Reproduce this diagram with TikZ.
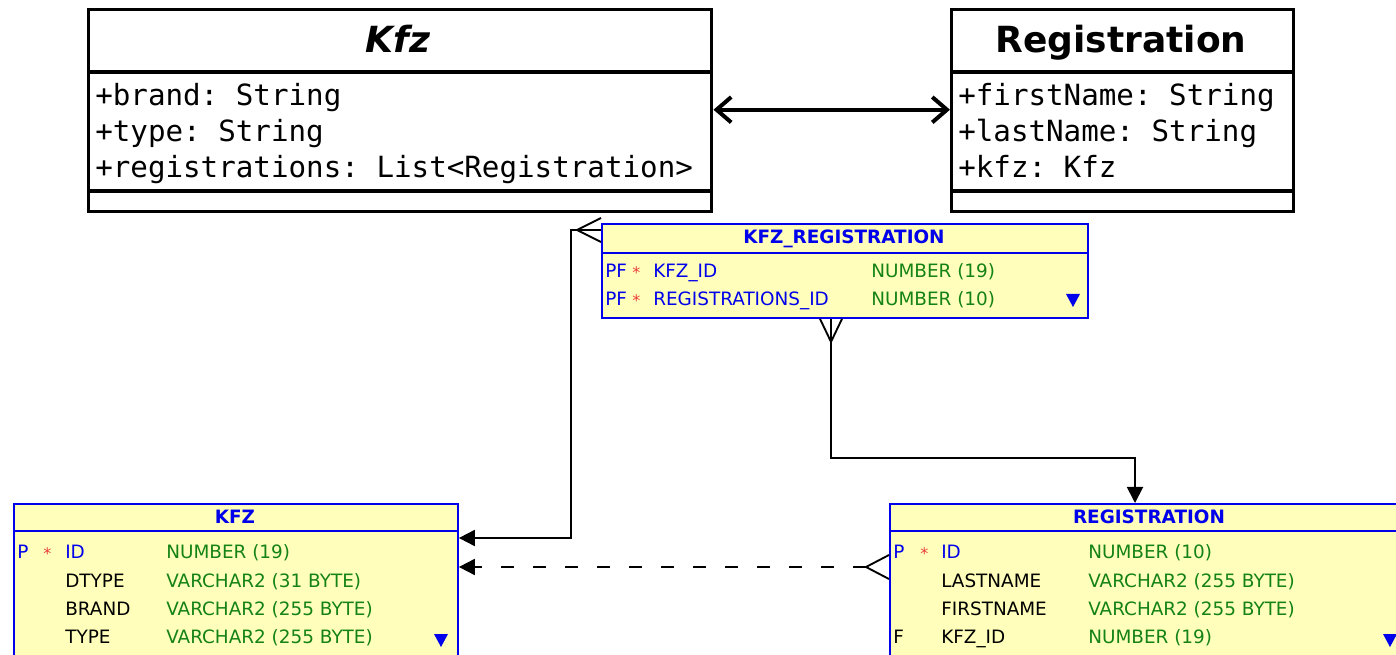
\documentclass[tikz,border=0pt]{standalone}
\usepackage{fontspec}
\setmainfont{DejaVu Sans}
\newfontfamily\umlmono{DejaVu Sans Mono}
\usetikzlibrary{arrows.meta,calc}
\definecolor{erdfill}{RGB}{255,255,187}
\definecolor{erdblue}{RGB}{0,0,235}
\definecolor{erdgreen}{RGB}{20,130,20}
\definecolor{erdred}{RGB}{235,60,60}
\frenchspacing
\begin{document}
\begin{tikzpicture}[x=0.75pt,y=-0.75pt,
  umlbox/.style={draw=black, line width=2.6pt, fill=white, inner sep=0pt, anchor=north west},
  umlline/.style={draw=black, line width=2.6pt},
  umltitle/.style={font=\bfseries\fontsize{27}{32}\selectfont, inner sep=0pt, anchor=base},
  umlattr/.style={font=\umlmono\fontsize{21.9}{26}\selectfont, anchor=base west, inner sep=0pt},
  erdbox/.style={draw=erdblue, line width=1.4pt, fill=erdfill, inner sep=0pt, anchor=north west},
  erdline/.style={draw=erdblue, line width=1.4pt},
  erdhead/.style={font=\bfseries\fontsize{13.8}{16}\selectfont, text=erdblue, inner sep=0pt, anchor=base},
  erdtxt/.style={font=\fontsize{13.8}{16}\selectfont, anchor=base west, inner sep=0pt},
  keytxt/.style={erdtxt, text=erdblue},
  coltxt/.style={erdtxt, text=black},
  typetxt/.style={erdtxt, text=erdgreen},
  startxt/.style={erdtxt, text=erdred, font=\fontsize{12}{14}\selectfont},
  conn/.style={draw=black, line width=1.4pt},
  filltip/.style={-{Triangle[length=12pt,width=12pt]}}
]
\clip (0,0) rectangle (1396,655);
\fill[white] (0,0) rectangle (1396,655);

% ---------- UML class Kfz ----------
\node[umlbox, minimum width=467.25pt, minimum height=151.5pt] (kfz) at (87,8) {};
\draw[umlline] (87,72) -- (710,72);
\draw[umlline] (87,191) -- (710,191);
\node[umltitle, font=\bfseries\itshape\fontsize{27}{32}\selectfont] (kfzt) at (398,53) {Kfz};
\node[umlattr] (kfza1) at (95,106) {+brand: String};
\node[umlattr] (kfza2) at (95,142) {+type: String};
\node[umlattr] (kfza3) at (95,178) {+registrations: List<Registration>};

% ---------- UML class Registration ----------
\node[umlbox, minimum width=256.5pt, minimum height=151.5pt] (reg) at (950,8) {};
\draw[umlline] (950,72) -- (1292,72);
\draw[umlline] (950,191) -- (1292,191);
\node[umltitle] (regt) at (1121,53) {Registration};
\node[umlattr] (rega1) at (958,106) {+firstName: String};
\node[umlattr] (rega2) at (958,142) {+lastName: String};
\node[umlattr] (rega3) at (958,178) {+kfz: Kfz};

\draw[line width=3pt, {Straight Barb[length=11pt,width=19pt]}-{Straight Barb[length=11pt,width=19pt]}] ($(kfz.east)+(0,-1)$) -- ($(reg.west)+(0,-1)$);

% ---------- ERD table KFZ_REGISTRATION ----------
\node[erdbox, minimum width=364.5pt, minimum height=70.5pt] (kr) at (601,223) {};
\draw[erdline] (601,253) -- (1087,253);
\node[erdhead] (krh) at (844,244) {KFZ\_REGISTRATION};
\node[keytxt] (kr1p) at (605,278) {PF};
\node[startxt] (kr1s) at (632,279) {*};
\node[keytxt] (kr1n) at (653,278) {KFZ\_ID};
\node[typetxt] (kr1t) at (871,278) {NUMBER (19)};
\node[keytxt] (kr2p) at (605,306) {PF};
\node[startxt] (kr2s) at (632,307) {*};
\node[keytxt] (kr2n) at (653,306) {REGISTRATIONS\_ID};
\node[typetxt] (kr2t) at (871,306) {NUMBER (10)};
\fill[erdblue] (1066,294) -- (1080,294) -- (1073,307) -- cycle;

% ---------- ERD table KFZ ----------
\node[erdbox, minimum width=333pt, minimum height=127.5pt] (ke) at (13,503) {};
\draw[erdline] (13,531) -- (457,531);
\node[erdhead] (keh) at (235,524) {KFZ};
\node[keytxt] (ke1p) at (17,559) {P};
\node[startxt] (ke1s) at (43,560) {*};
\node[keytxt] (ke1n) at (65,559) {ID};
\node[typetxt] (ke1t) at (166,559) {NUMBER (19)};
\node[coltxt] (ke2n) at (65,587) {DTYPE};
\node[typetxt] (ke2t) at (166,587) {VARCHAR2 (31 BYTE)};
\node[coltxt] (ke3n) at (65,615) {BRAND};
\node[typetxt] (ke3t) at (166,615) {VARCHAR2 (255 BYTE)};
\node[coltxt] (ke4n) at (65,643) {TYPE};
\node[typetxt] (ke4t) at (166,643) {VARCHAR2 (255 BYTE)};
\fill[erdblue] (434,634) -- (448,634) -- (441,647) -- cycle;

% ---------- ERD table REGISTRATION ----------
\node[erdbox, minimum width=390pt, minimum height=127.5pt] (re) at (889,503) {};
\draw[erdline] (889,531) -- (1409,531);
\node[erdhead] (reh) at (1149,524) {REGISTRATION};
\node[keytxt] (re1p) at (893,559) {P};
\node[startxt] (re1s) at (920,560) {*};
\node[keytxt] (re1n) at (941,559) {ID};
\node[typetxt] (re1t) at (1088,559) {NUMBER (10)};
\node[coltxt] (re2n) at (941,587) {LASTNAME};
\node[typetxt] (re2t) at (1088,587) {VARCHAR2 (255 BYTE)};
\node[coltxt] (re3n) at (941,615) {FIRSTNAME};
\node[typetxt] (re3t) at (1088,615) {VARCHAR2 (255 BYTE)};
\node[coltxt] (re4p) at (893,643) {F};
\node[coltxt] (re4n) at (941,643) {KFZ\_ID};
\node[typetxt] (re4t) at (1088,643) {NUMBER (19)};
\fill[erdblue] (1383,634) -- (1397,634) -- (1390,647) -- cycle;

% ---------- connectors ----------
\coordinate (krw) at ($(kr.north west)+(0,7)$);
\coordinate (krs) at ($(kr.south west)+(230,0)$);
\coordinate (kee1) at ($(ke.north east)+(0,35)$);
\coordinate (kee2) at ($(ke.north east)+(0,64)$);
\coordinate (ren) at ($(re.north west)+(246,0)$);
\coordinate (rew) at ($(re.north west)+(0,64)$);
\coordinate (rewc) at ($(re.north west)+(-23,64)$);

% KFZ_REGISTRATION -> KFZ
\draw[conn, filltip] (krw) -- ++(-30,0) |- (kee1);
\draw[conn] ($(krw)+(0,-12)$) -- ($(krw)+(-24,0)$) -- ($(krw)+(0,12)$);

% KFZ_REGISTRATION -> REGISTRATION
\draw[conn, filltip] (krs) -- ++(0,139) -| (ren);
\draw[conn] ($(krs)+(-11,0)$) -- ($(krs)+(0,23)$) -- ($(krs)+(11,0)$);

% REGISTRATION -> KFZ (dashed)
\draw[conn, filltip, dash pattern=on 10pt off 14pt] (rewc) -- (kee2);
\draw[conn] ($(rew)+(0,-12)$) -- (rewc) -- ($(rew)+(0,12)$);
\end{tikzpicture}
\end{document}
